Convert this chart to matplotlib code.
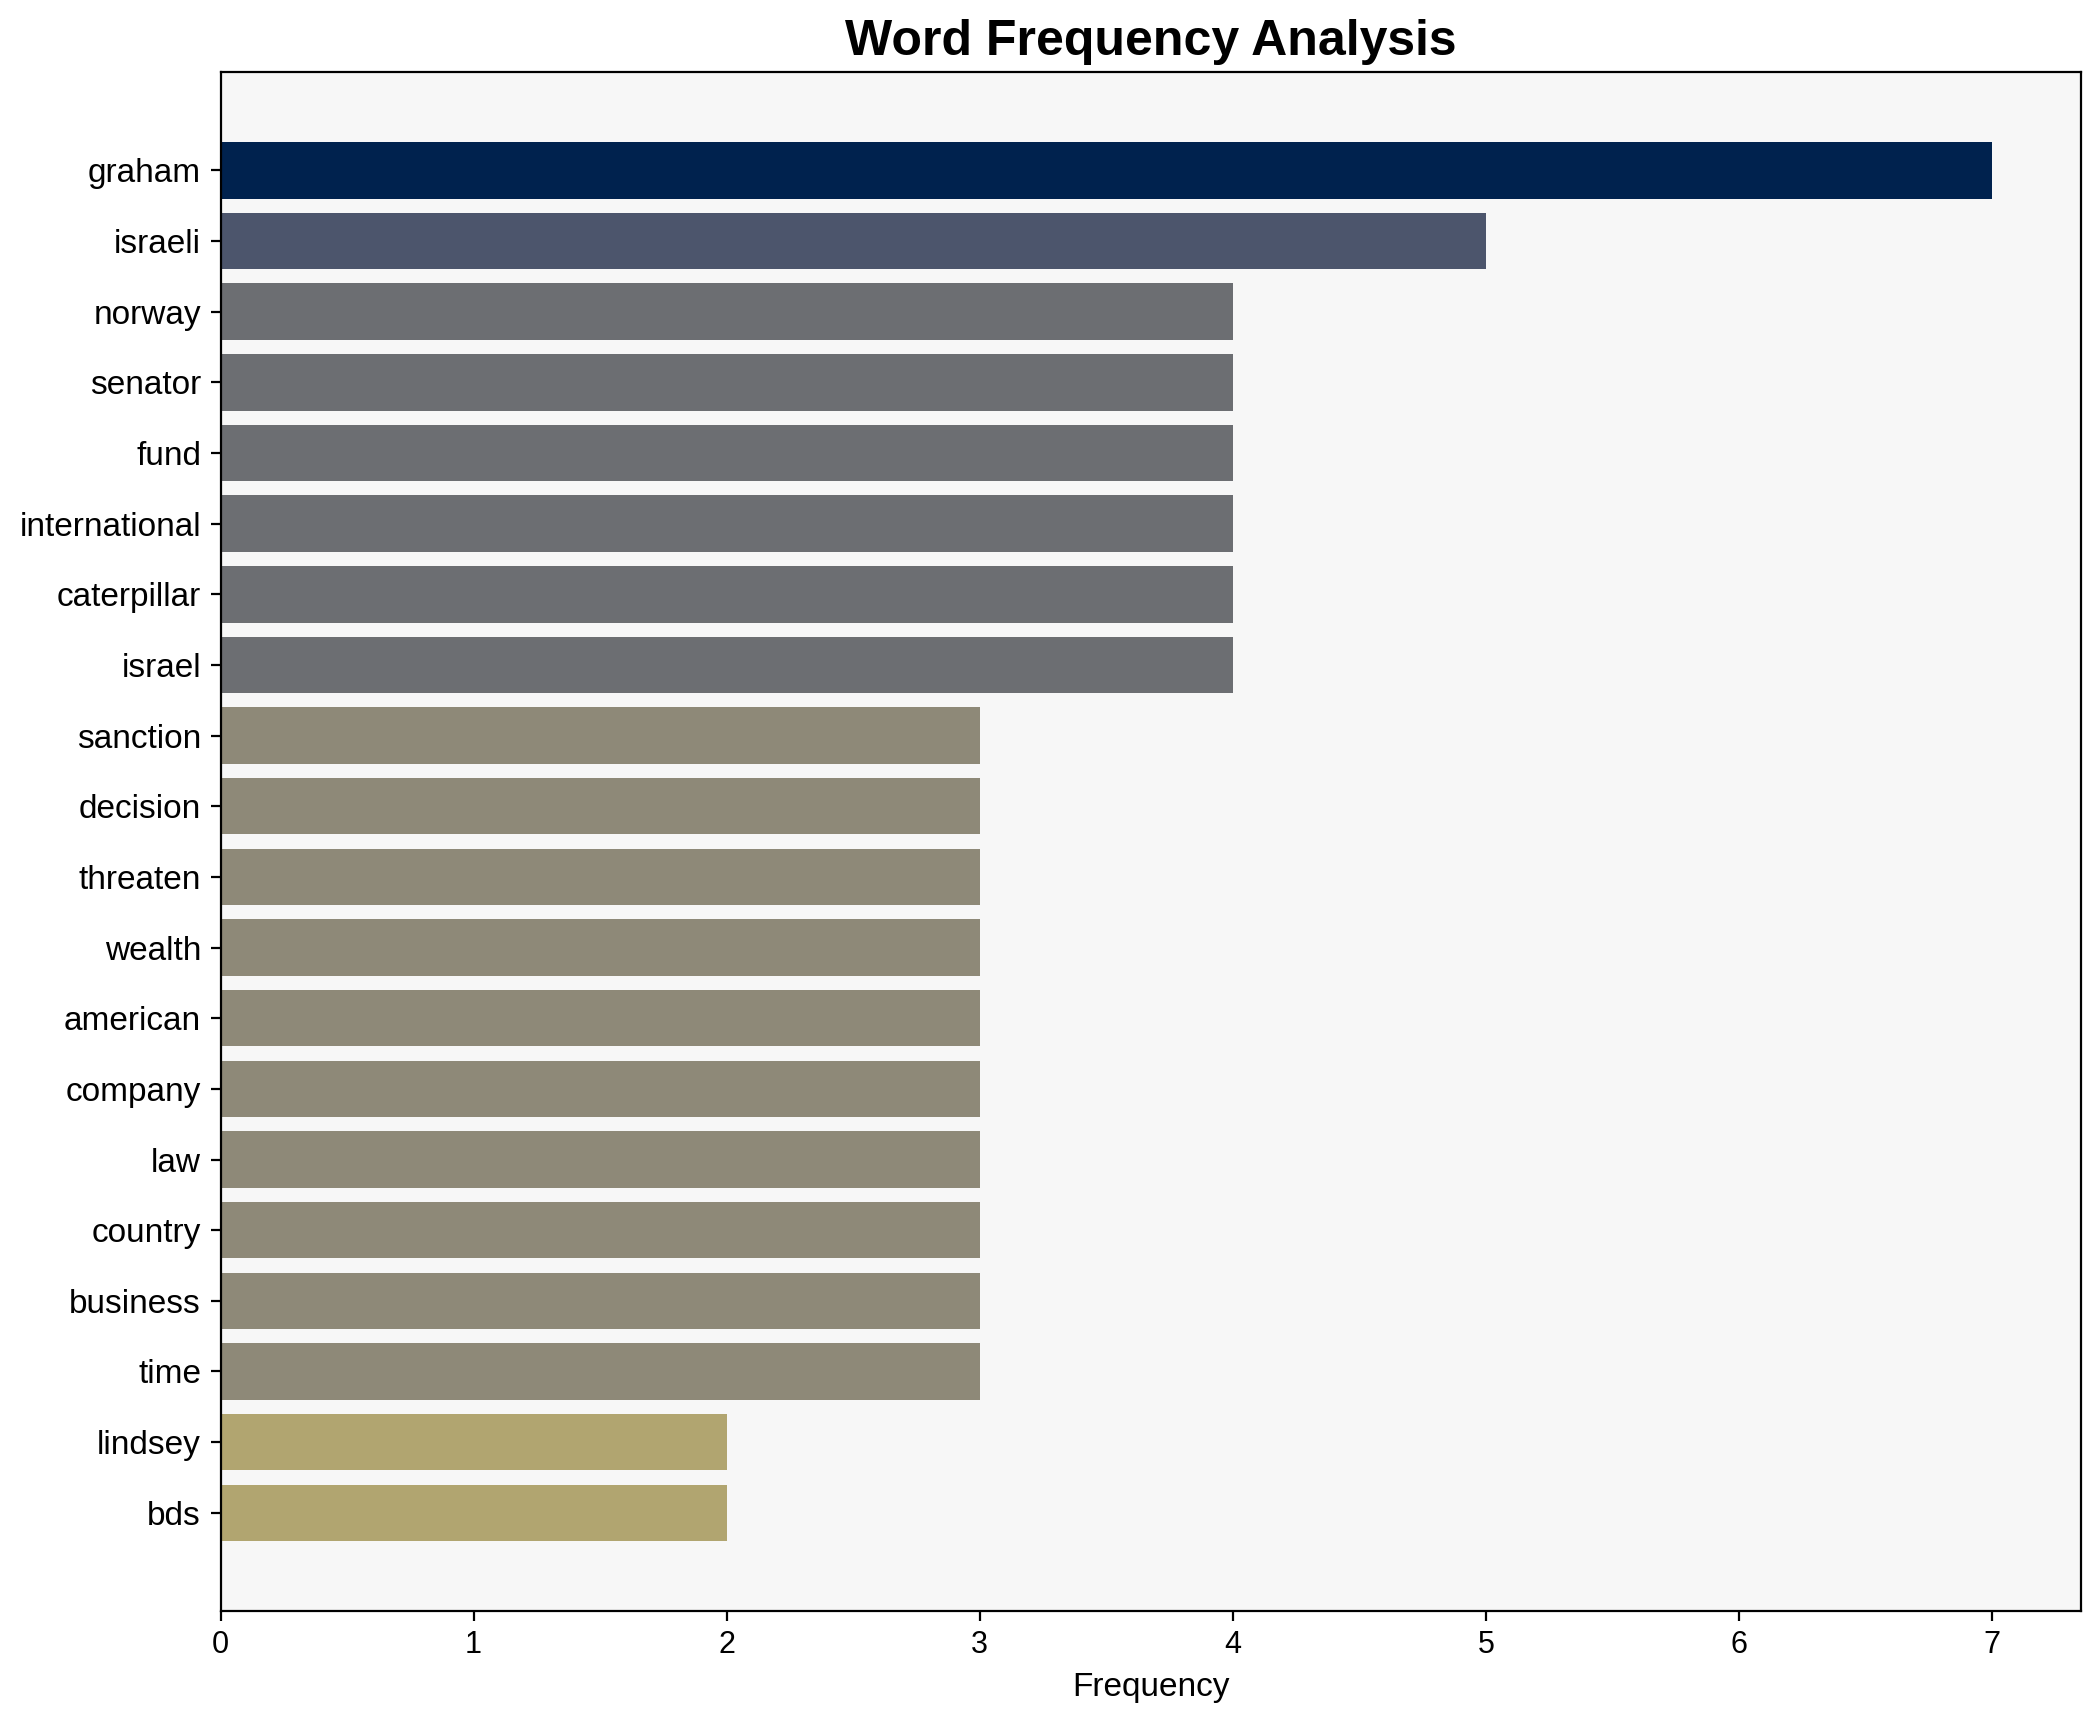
import numpy as np
import matplotlib.pyplot as plt

plt.rcParams['font.family'] = ['Liberation Sans', 'DejaVu Sans']

#   Данные
words = ["graham", "israeli", "norway", "senator", "fund", "international",
         "caterpillar", "israel", "sanction", "decision", "threaten", "wealth",
         "american", "company", "law", "country", "business", "time",
         "lindsey", "bds"]
counts = np.array([7, 5, 4, 4, 4, 4, 4, 4, 3, 3, 3, 3, 3, 3, 3, 3, 3, 3, 2, 2])

colors = plt.cm.cividis(1 - counts / counts.max())

fig, ax = plt.subplots(figsize=(10.5, 8.61), dpi=200)
ax.set_facecolor("#f7f7f7")
y = np.arange(len(words))
ax.barh(y, counts, color=colors, height=0.8)
ax.set_yticks(y)
ax.set_yticklabels(words, fontsize=12)
ax.invert_yaxis()
ax.tick_params(axis="x", labelsize=11)
ax.set_xlabel("Frequency", fontsize=12)
ax.set_title("Word Frequency Analysis", fontsize=18, fontweight="bold")
plt.tight_layout(pad=0.7)
plt.savefig("out.png", dpi=200)
